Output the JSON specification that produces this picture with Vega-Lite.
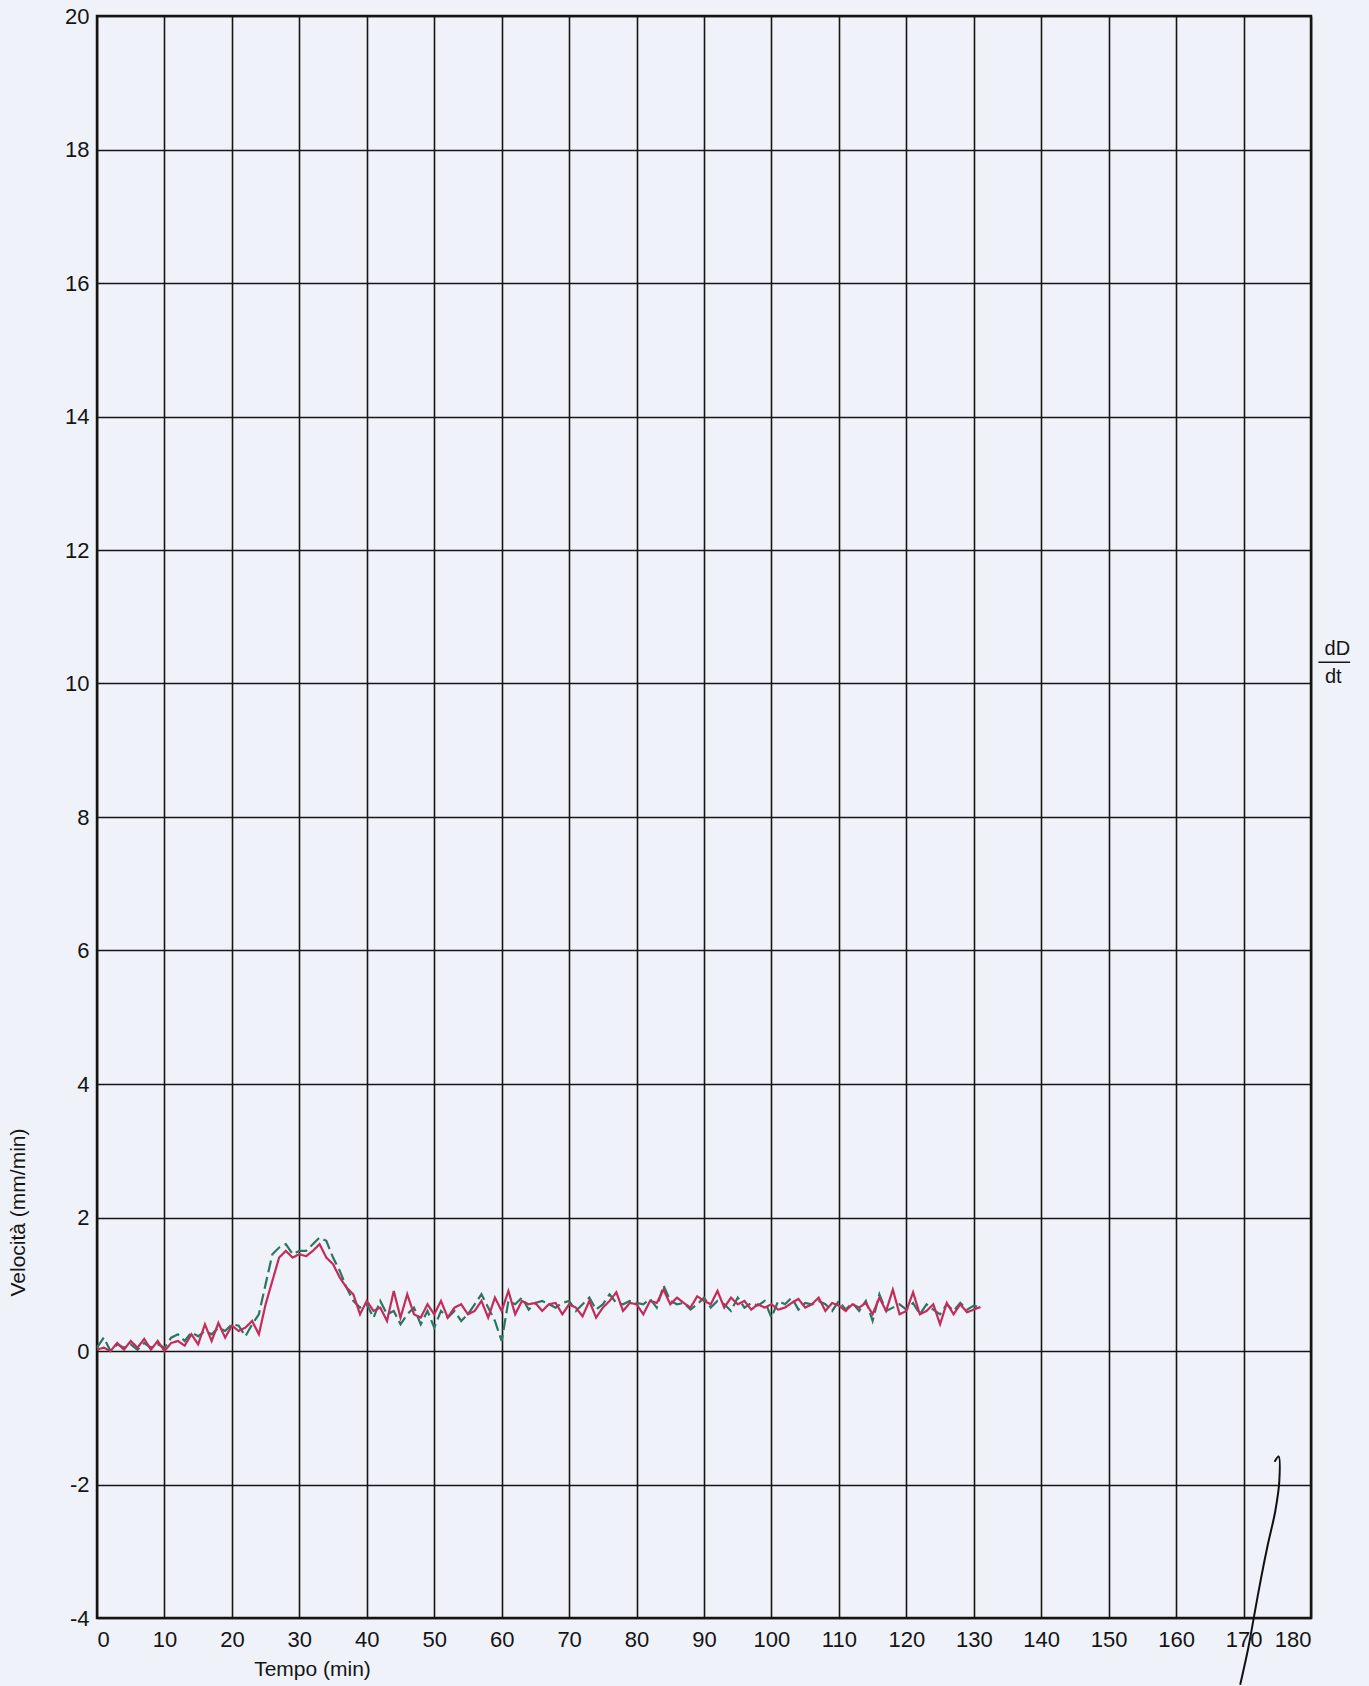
{
  "$schema": "https://vega.github.io/schema/vega-lite/v6.json",
  "width": 1214,
  "height": 1602,
  "autosize": {"type": "none"},
  "padding": {"left": 97, "top": 16, "right": 58, "bottom": 68},
  "background": "#eff2f8",
  "config": {
    "font": "Liberation Sans",
    "view": {"stroke": "#151515", "strokeWidth": 2.5},
    "axis": {
      "grid": true,
      "gridColor": "#151515",
      "gridWidth": 1.6,
      "gridOpacity": 1,
      "domain": false,
      "ticks": false,
      "labelFontSize": 22,
      "labelColor": "#151515",
      "labelExpr": "replace(datum.label, '−', '-')",
      "titleFontSize": 21,
      "titleFontWeight": "normal",
      "titleColor": "#151515"
    }
  },
  "datasets": {
    "curves": [
      {"t": 0, "a": 0.02, "b": 0.05}, {"t": 1, "a": 0.05, "b": 0.2}, {"t": 2, "a": 0.0, "b": 0.0},
      {"t": 3, "a": 0.12, "b": 0.1}, {"t": 4, "a": 0.02, "b": 0.05}, {"t": 5, "a": 0.15, "b": 0.1},
      {"t": 6, "a": 0.05, "b": 0.02}, {"t": 7, "a": 0.18, "b": 0.12}, {"t": 8, "a": 0.02, "b": 0.05},
      {"t": 9, "a": 0.15, "b": 0.1}, {"t": 10, "a": 0.0, "b": 0.05}, {"t": 11, "a": 0.12, "b": 0.2},
      {"t": 12, "a": 0.15, "b": 0.25}, {"t": 13, "a": 0.08, "b": 0.15}, {"t": 14, "a": 0.25, "b": 0.28},
      {"t": 15, "a": 0.1, "b": 0.22}, {"t": 16, "a": 0.4, "b": 0.3}, {"t": 17, "a": 0.15, "b": 0.25},
      {"t": 18, "a": 0.42, "b": 0.35}, {"t": 19, "a": 0.2, "b": 0.3}, {"t": 20, "a": 0.38, "b": 0.4},
      {"t": 21, "a": 0.3, "b": 0.38}, {"t": 22, "a": 0.35, "b": 0.22}, {"t": 23, "a": 0.45, "b": 0.4},
      {"t": 24, "a": 0.25, "b": 0.55}, {"t": 25, "a": 0.7, "b": 1.0}, {"t": 26, "a": 1.05, "b": 1.45},
      {"t": 27, "a": 1.4, "b": 1.55}, {"t": 28, "a": 1.5, "b": 1.6}, {"t": 29, "a": 1.4, "b": 1.45},
      {"t": 30, "a": 1.45, "b": 1.5}, {"t": 31, "a": 1.42, "b": 1.5}, {"t": 32, "a": 1.5, "b": 1.6},
      {"t": 33, "a": 1.6, "b": 1.7}, {"t": 34, "a": 1.4, "b": 1.65}, {"t": 35, "a": 1.3, "b": 1.4},
      {"t": 36, "a": 1.1, "b": 1.2}, {"t": 37, "a": 0.95, "b": 0.95}, {"t": 38, "a": 0.85, "b": 0.75},
      {"t": 39, "a": 0.55, "b": 0.65}, {"t": 40, "a": 0.75, "b": 0.7}, {"t": 41, "a": 0.6, "b": 0.5},
      {"t": 42, "a": 0.65, "b": 0.75}, {"t": 43, "a": 0.45, "b": 0.55}, {"t": 44, "a": 0.9, "b": 0.6},
      {"t": 45, "a": 0.5, "b": 0.4}, {"t": 46, "a": 0.85, "b": 0.55}, {"t": 47, "a": 0.55, "b": 0.65},
      {"t": 48, "a": 0.5, "b": 0.4}, {"t": 49, "a": 0.7, "b": 0.6}, {"t": 50, "a": 0.55, "b": 0.35},
      {"t": 51, "a": 0.75, "b": 0.6}, {"t": 52, "a": 0.5, "b": 0.5}, {"t": 53, "a": 0.65, "b": 0.6},
      {"t": 54, "a": 0.7, "b": 0.45}, {"t": 55, "a": 0.55, "b": 0.55}, {"t": 56, "a": 0.6, "b": 0.7},
      {"t": 57, "a": 0.75, "b": 0.85}, {"t": 58, "a": 0.5, "b": 0.65}, {"t": 59, "a": 0.8, "b": 0.45},
      {"t": 60, "a": 0.6, "b": 0.15}, {"t": 61, "a": 0.9, "b": 0.75}, {"t": 62, "a": 0.55, "b": 0.7},
      {"t": 63, "a": 0.75, "b": 0.8}, {"t": 64, "a": 0.7, "b": 0.62}, {"t": 65, "a": 0.72, "b": 0.72},
      {"t": 66, "a": 0.6, "b": 0.75}, {"t": 67, "a": 0.7, "b": 0.7}, {"t": 68, "a": 0.72, "b": 0.65},
      {"t": 69, "a": 0.55, "b": 0.72}, {"t": 70, "a": 0.7, "b": 0.75}, {"t": 71, "a": 0.65, "b": 0.6},
      {"t": 72, "a": 0.52, "b": 0.7}, {"t": 73, "a": 0.75, "b": 0.8}, {"t": 74, "a": 0.5, "b": 0.62},
      {"t": 75, "a": 0.65, "b": 0.7}, {"t": 76, "a": 0.75, "b": 0.85}, {"t": 77, "a": 0.88, "b": 0.72},
      {"t": 78, "a": 0.6, "b": 0.7}, {"t": 79, "a": 0.72, "b": 0.75}, {"t": 80, "a": 0.7, "b": 0.72},
      {"t": 81, "a": 0.55, "b": 0.7}, {"t": 82, "a": 0.75, "b": 0.78}, {"t": 83, "a": 0.72, "b": 0.65},
      {"t": 84, "a": 0.92, "b": 0.98}, {"t": 85, "a": 0.7, "b": 0.75}, {"t": 86, "a": 0.8, "b": 0.7},
      {"t": 87, "a": 0.72, "b": 0.72}, {"t": 88, "a": 0.65, "b": 0.62}, {"t": 89, "a": 0.82, "b": 0.7},
      {"t": 90, "a": 0.75, "b": 0.8}, {"t": 91, "a": 0.7, "b": 0.65}, {"t": 92, "a": 0.9, "b": 0.75},
      {"t": 93, "a": 0.65, "b": 0.7}, {"t": 94, "a": 0.8, "b": 0.6}, {"t": 95, "a": 0.7, "b": 0.8},
      {"t": 96, "a": 0.75, "b": 0.65}, {"t": 97, "a": 0.62, "b": 0.72}, {"t": 98, "a": 0.7, "b": 0.68},
      {"t": 99, "a": 0.65, "b": 0.75}, {"t": 100, "a": 0.7, "b": 0.5}, {"t": 101, "a": 0.62, "b": 0.75},
      {"t": 102, "a": 0.65, "b": 0.7}, {"t": 103, "a": 0.72, "b": 0.8}, {"t": 104, "a": 0.78, "b": 0.62},
      {"t": 105, "a": 0.65, "b": 0.72}, {"t": 106, "a": 0.7, "b": 0.7}, {"t": 107, "a": 0.8, "b": 0.75},
      {"t": 108, "a": 0.6, "b": 0.7}, {"t": 109, "a": 0.72, "b": 0.6}, {"t": 110, "a": 0.68, "b": 0.75},
      {"t": 111, "a": 0.6, "b": 0.62}, {"t": 112, "a": 0.7, "b": 0.72}, {"t": 113, "a": 0.65, "b": 0.6},
      {"t": 114, "a": 0.72, "b": 0.75}, {"t": 115, "a": 0.55, "b": 0.45}, {"t": 116, "a": 0.8, "b": 0.85},
      {"t": 117, "a": 0.6, "b": 0.6}, {"t": 118, "a": 0.92, "b": 0.65}, {"t": 119, "a": 0.55, "b": 0.7},
      {"t": 120, "a": 0.6, "b": 0.62}, {"t": 121, "a": 0.88, "b": 0.72}, {"t": 122, "a": 0.55, "b": 0.55},
      {"t": 123, "a": 0.6, "b": 0.7}, {"t": 124, "a": 0.7, "b": 0.62}, {"t": 125, "a": 0.4, "b": 0.55},
      {"t": 126, "a": 0.72, "b": 0.7}, {"t": 127, "a": 0.55, "b": 0.6}, {"t": 128, "a": 0.7, "b": 0.72},
      {"t": 129, "a": 0.58, "b": 0.62}, {"t": 130, "a": 0.62, "b": 0.68}, {"t": 131, "a": 0.66, "b": 0.65}
    ],
    "pen": [
      {"i": 0, "x": 174.6, "y": -1.66}, {"i": 1, "x": 175.2, "y": -1.58}, {"i": 2, "x": 175.3, "y": -1.95},
      {"i": 3, "x": 174.7, "y": -2.4}, {"i": 4, "x": 173.6, "y": -2.9}, {"i": 5, "x": 172.6, "y": -3.4},
      {"i": 6, "x": 171.6, "y": -3.95}, {"i": 7, "x": 170.7, "y": -4.45}, {"i": 8, "x": 169.5, "y": -5.0}
    ],
    "notes": [
      {"x": 183.9, "y": 10.51, "label": "dD"},
      {"x": 183.3, "y": 10.09, "label": "dt"}
    ],
    "bar": [{"x": 181.1, "x2": 185.8, "y": 10.32}]
  },
  "encoding": {
    "x": {
      "type": "quantitative",
      "scale": {"domain": [0, 180], "nice": false, "zero": false},
      "axis": {
        "values": [0, 10, 20, 30, 40, 50, 60, 70, 80, 90, 100, 110, 120, 130, 140, 150, 160, 170, 180],
        "labelPadding": 11,
        "title": "Tempo (min)",
        "titleX": 215,
        "titleY": 51,
        "titleAlign": "center",
        "titleBaseline": "middle"
      }
    },
    "y": {
      "type": "quantitative",
      "scale": {"domain": [-4, 20], "nice": false, "zero": false},
      "axis": {
        "values": [-4, -2, 0, 2, 4, 6, 8, 10, 12, 14, 16, 18, 20],
        "labelPadding": 8,
        "title": "Velocità (mm/min)",
        "titleX": -79,
        "titleY": 1196,
        "titleAngle": 270,
        "titleAlign": "center",
        "titleBaseline": "middle"
      }
    }
  },
  "layer": [
    {
      "mark": {"type": "rule", "color": "#151515", "strokeWidth": 1.6},
      "encoding": {"y": {"datum": 10.32}}
    },
    {
      "data": {"name": "curves"},
      "transform": [{"fold": ["b", "a"], "as": ["s", "v"]}],
      "mark": {"type": "line", "strokeWidth": 2.2},
      "encoding": {
        "x": {"field": "t"},
        "y": {"field": "v"},
        "color": {
          "field": "s",
          "type": "nominal",
          "scale": {"domain": ["a", "b"], "range": ["#c42a5a", "#2b7563"]},
          "legend": null
        },
        "strokeDash": {
          "field": "s",
          "type": "nominal",
          "scale": {"domain": ["a", "b"], "range": [[1, 0], [12, 5]]},
          "legend": null
        },
        "order": {"field": "t"}
      }
    },
    {
      "data": {"name": "pen"},
      "mark": {"type": "line", "color": "#111111", "strokeWidth": 2, "clip": false, "interpolate": "catmull-rom"},
      "encoding": {
        "x": {"field": "x"},
        "y": {"field": "y"},
        "order": {"field": "i"}
      }
    },
    {
      "data": {"name": "bar"},
      "mark": {"type": "rule", "color": "#151515", "strokeWidth": 1.5, "clip": false},
      "encoding": {
        "x": {"field": "x"},
        "x2": {"field": "x2"},
        "y": {"field": "y"}
      }
    },
    {
      "data": {"name": "notes"},
      "mark": {"type": "text", "fontSize": 20, "color": "#151515", "align": "center", "baseline": "middle"},
      "encoding": {
        "x": {"field": "x"},
        "y": {"field": "y"},
        "text": {"field": "label"}
      }
    }
  ]
}
